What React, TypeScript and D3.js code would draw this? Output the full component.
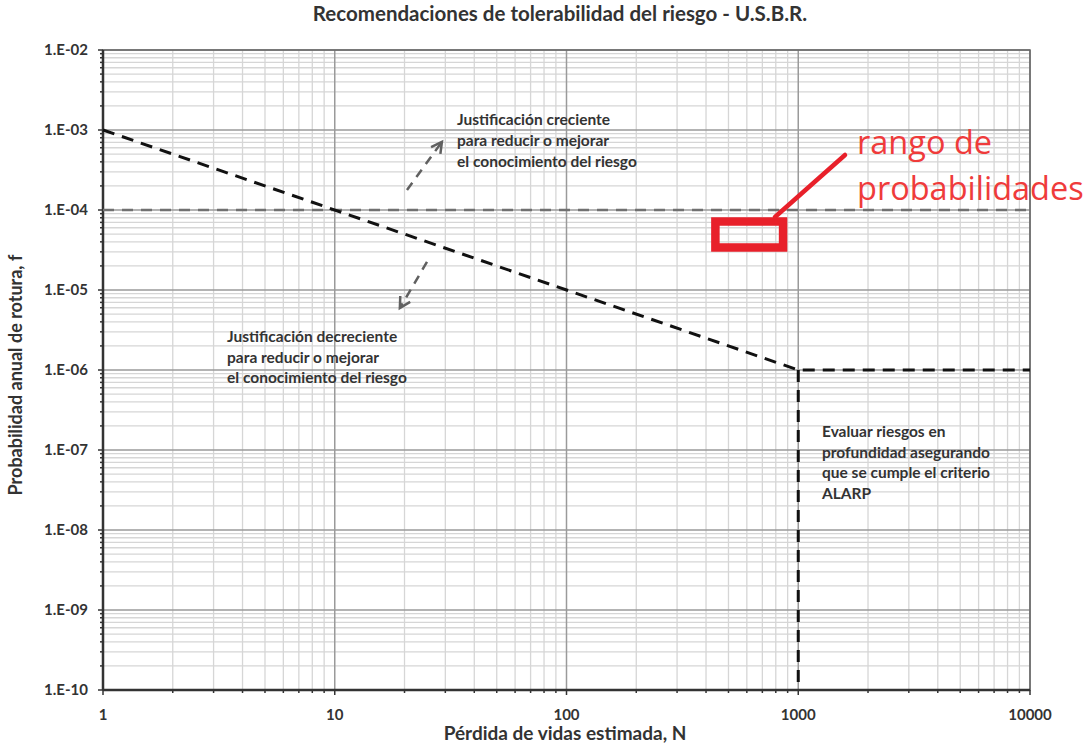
import React from "react";
import * as d3 from "d3";

const title = "Recomendaciones de tolerabilidad del riesgo - U.S.B.R.";
const xLabel = "Pérdida de vidas estimada, N";
const yLabel = "Probabilidad anual de rotura, f";
const xTicks = [1, 10, 100, 1000, 10000];
const xTickLabels = ["1", "10", "100", "1000", "10000"];
const yTicks = [1e-2, 1e-3, 1e-4, 1e-5, 1e-6, 1e-7, 1e-8, 1e-9, 1e-10];
const yTickLabels = ["1.E-02", "1.E-03", "1.E-04", "1.E-05", "1.E-06", "1.E-07", "1.E-08", "1.E-09", "1.E-10"];

// guideline: sloped limit then flat
const limitLine: [number, number][] = [[1, 1e-3], [1000, 1e-6], [10000, 1e-6]];
const verticalLine: [number, number][] = [[1000, 1e-6], [1000, 1e-10]];
const greyLine: [number, number][] = [[1, 1e-4], [10000, 1e-4]];

const upArrow: [number, number][] = [[20.5, 1.78e-4], [29.0, 7.1e-4]];
const downArrow: [number, number][] = [[25.0, 2.24e-5], [19.1, 5.96e-6]];

const noteUp = ["Justificación creciente", "para reducir o mejorar", "el conocimiento del riesgo"];
const noteDown = ["Justificación decreciente", "para reducir o mejorar", "el conocimiento del riesgo"];
const noteAlarp = ["Evaluar riesgos en", "profundidad asegurando", "que se cumple el criterio", "ALARP"];
const redText = ["rango de", "probabilidades"];
const redBox = { x0: 439, x1: 860, y0: 7.18e-5, y1: 3.4e-5 };

const W = 1089, H = 745;
const M = { left: 103, right: 1030, top: 50, bottom: 690 };

export default function App() {
  const x = d3.scaleLog().domain([1, 10000]).range([M.left, M.right]);
  const y = d3.scaleLog().domain([1e-10, 1e-2]).range([M.bottom, M.top]);
  const line = d3.line<[number, number]>().x(d => x(d[0])).y(d => y(d[1]));

  const xMinor: number[] = [];
  for (let e = 0; e < 4; e++) for (let k = 2; k <= 9; k++) xMinor.push(k * Math.pow(10, e));
  const yMinor: number[] = [];
  for (let e = -10; e < -2; e++) for (let k = 2; k <= 9; k++) yMinor.push(k * Math.pow(10, e));

  const font = "Lato, 'Open Sans', sans-serif";
  const textCol = "#333";
  const noteSize = 15.5;

  const arrowHead = (pts: [number, number][]) => {
    const [a, b] = pts;
    const x1 = x(a[0]), y1 = y(a[1]), x2 = x(b[0]), y2 = y(b[1]);
    const ang = Math.atan2(y2 - y1, x2 - x1);
    const L = 12, spread = 0.5;
    const p1 = [x2 - L * Math.cos(ang - spread), y2 - L * Math.sin(ang - spread)];
    const p2 = [x2 - L * Math.cos(ang + spread), y2 - L * Math.sin(ang + spread)];
    return `M${p1[0]},${p1[1]}L${x2},${y2}L${p2[0]},${p2[1]}`;
  };

  return (
    <svg width={W} height={H} style={{ display: "block", position: "absolute", left: 0, top: 0, background: "#fff" }}>
      <rect x={0} y={0} width={W} height={H} fill="#fff" />
      {/* minor grid */}
      {xMinor.map((v, i) => (
        <line key={"xm" + i} x1={x(v)} x2={x(v)} y1={M.top} y2={M.bottom} stroke="#d6d6d6" strokeWidth={1.3} />
      ))}
      {yMinor.map((v, i) => (
        <line key={"ym" + i} x1={M.left} x2={M.right} y1={y(v)} y2={y(v)} stroke="#d6d6d6" strokeWidth={1.3} />
      ))}
      {/* major grid */}
      {xTicks.map((v, i) => (
        <line key={"xM" + i} x1={x(v)} x2={x(v)} y1={M.top} y2={M.bottom} stroke="#9a9a9a" strokeWidth={1.5} />
      ))}
      {yTicks.map((v, i) => (
        <line key={"yM" + i} x1={M.left} x2={M.right} y1={y(v)} y2={y(v)} stroke="#9a9a9a" strokeWidth={1.5} />
      ))}
      {/* frame */}
      <rect x={M.left} y={M.top} width={M.right - M.left} height={M.bottom - M.top} fill="none" stroke="#666" strokeWidth={1.5} />
      <line x1={M.left} x2={M.left} y1={M.top} y2={M.bottom} stroke="#333" strokeWidth={2.5} />
      <line x1={M.left} x2={M.right} y1={M.bottom} y2={M.bottom} stroke="#333" strokeWidth={2.5} />
      {/* ticks */}
      {yMinor.map((v, i) => (
        <line key={"ytm" + i} x1={M.left - 3} x2={M.left} y1={y(v)} y2={y(v)} stroke="#333" strokeWidth={1.5} />
      ))}
      {yTicks.map((v, i) => (
        <line key={"ytM" + i} x1={M.left - 5} x2={M.left} y1={y(v)} y2={y(v)} stroke="#333" strokeWidth={1.5} />
      ))}
      {xMinor.map((v, i) => (
        <line key={"xtm" + i} x1={x(v)} x2={x(v)} y1={M.bottom} y2={M.bottom + 3} stroke="#333" strokeWidth={1.5} />
      ))}
      {xTicks.map((v, i) => (
        <line key={"xtM" + i} x1={x(v)} x2={x(v)} y1={M.bottom} y2={M.bottom + 5} stroke="#333" strokeWidth={1.5} />
      ))}
      {/* tick labels */}
      {yTicks.map((v, i) => (
        <text key={"yl" + i} x={M.left - 15} y={y(v)} dy="0.35em" textAnchor="end" fontFamily={font} fontWeight="bold" fontSize={15} fill={textCol}>
          {yTickLabels[i]}
        </text>
      ))}
      {xTicks.map((v, i) => (
        <text key={"xl" + i} x={x(v)} y={M.bottom + 30} textAnchor="middle" fontFamily={font} fontWeight="bold" fontSize={15} fill={textCol}>
          {xTickLabels[i]}
        </text>
      ))}
      {/* lines */}
      <path d={line(greyLine) || ""} fill="none" stroke="#707070" strokeWidth={2.6} strokeDasharray="11,8" />
      <path d={line(limitLine) || ""} fill="none" stroke="#111" strokeWidth={3} strokeDasharray="12,8" />
      <path d={line(verticalLine) || ""} fill="none" stroke="#111" strokeWidth={3} strokeDasharray="12,8" />
      {/* arrows */}
      {[upArrow, downArrow].map((a, i) => (
        <g key={"ar" + i}>
          <path d={line(a) || ""} fill="none" stroke="#606060" strokeWidth={2.5} strokeDasharray="9,7" />
          <path d={arrowHead(a)} fill="none" stroke="#606060" strokeWidth={2.5} />
        </g>
      ))}
      {/* notes */}
      {noteUp.map((t, i) => (
        <text key={"nu" + i} x={x(33.7)} y={125 + i * 21} fontFamily={font} fontWeight="bold" fontSize={noteSize} fill={textCol}>{t}</text>
      ))}
      {noteDown.map((t, i) => (
        <text key={"nd" + i} x={x(3.43)} y={342 + i * 20.5} fontFamily={font} fontWeight="bold" fontSize={noteSize} fill={textCol}>{t}</text>
      ))}
      {noteAlarp.map((t, i) => (
        <text key={"na" + i} x={x(1266)} y={437 + i * 20.7} fontFamily={font} fontWeight="bold" fontSize={noteSize} fill={textCol}>{t}</text>
      ))}
      {/* red annotation */}
      <rect x={x(redBox.x0)} y={y(redBox.y0)} width={x(redBox.x1) - x(redBox.x0)} height={y(redBox.y1) - y(redBox.y0)} fill="none" stroke="#e8202a" strokeWidth={8.5} />
      <line x1={775} x2={845} y1={217} y2={155} stroke="#e8202a" strokeWidth={4.5} strokeLinecap="round" />
      {redText.map((t, i) => (
        <text key={"rt" + i} x={857} y={154 + i * 46} fontFamily="'Open Sans', sans-serif" fontSize={32.5} fill="#ef3b3b">{t}</text>
      ))}
      {/* titles */}
      <text x={560} y={21} textAnchor="middle" fontFamily={font} fontWeight="bold" fontSize={20.5} fill={textCol}>{title}</text>
      <text x={565} y={740} textAnchor="middle" fontFamily={font} fontWeight="bold" fontSize={19} fill={textCol}>{xLabel}</text>
      <text transform={`translate(22,${375}) rotate(-90)`} textAnchor="middle" fontFamily={font} fontWeight="bold" fontSize={18} fill={textCol}>{yLabel}</text>
    </svg>
  );
}
